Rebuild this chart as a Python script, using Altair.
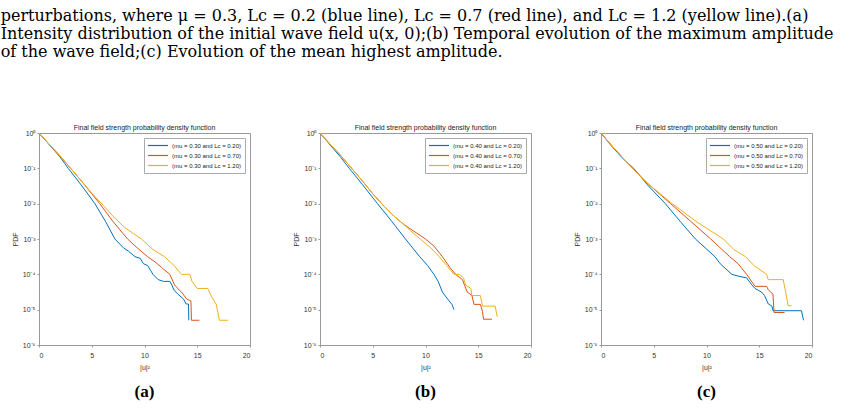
import altair as alt
import pandas as pd

CAPTION = [
    "perturbations, where \u03bc = 0.3, Lc = 0.2 (blue line), Lc = 0.7 (red line), and Lc = 1.2 (yellow line).(a)",
    "Intensity distribution of the initial wave field u(x, 0);(b) Temporal evolution of the maximum amplitude",
    "of the wave field;(c) Evolution of the mean highest amplitude.",
]
PANEL_TITLE = "Final field strength probability density function"
PANEL_TAGS = ["(a)", "(b)", "(c)"]
MUS = [0.30, 0.40, 0.50]
LCS = [0.20, 0.70, 1.20]
COLORS = ["#0072BD", "#D95319", "#EDB120"]

# values: x = |u|^2, y = log10(PDF)
A_BLUE_X = [0, 1, 2, 2.77, 4, 5.3, 6.3, 7.2, 8.0, 8.5, 9.1, 9.6, 9.9, 10.3, 10.6, 10.8, 11.3, 11.8, 12.4, 12.6, 12.8, 13.16, 13.7, 13.95, 14.17, 14.2]
A_BLUE_LOG = [0, -0.34, -0.68, -1.0, -1.47, -2.0, -2.5, -3.0, -3.25, -3.35, -3.5, -3.55, -3.7, -3.75, -3.9, -4.0, -4.15, -4.2, -4.2, -4.3, -4.45, -4.56, -4.7, -4.84, -4.84, -5.3]
A_RED_X = [0, 1, 2, 3, 4, 5, 5.76, 7, 8.4, 9.3, 10.3, 11.0, 11.6, 12.4, 12.85, 13.3, 13.5, 14.0, 14.4, 14.45, 15.2]
A_RED_LOG = [0, -0.33, -0.65, -1.0, -1.35, -1.72, -2.0, -2.5, -3.0, -3.25, -3.5, -3.65, -3.8, -4.0, -4.3, -4.45, -4.5, -4.7, -4.75, -5.3, -5.3]
A_YEL_X = [0, 1, 2, 3, 4, 5, 6.1, 7, 8.1, 9.7, 10.8, 11.9, 12.8, 13.5, 14.3, 14.5, 15.0, 16.0, 16.3, 16.8, 17.1, 17.9]
A_YEL_LOG = [0, -0.33, -0.65, -1.0, -1.35, -1.7, -2.05, -2.35, -2.67, -3.0, -3.3, -3.5, -3.75, -4.0, -4.0, -4.2, -4.4, -4.4, -4.6, -4.85, -5.3, -5.3]

B_BLUE_X = [0, 1, 2, 2.77, 4, 5.45, 6.8, 8.1, 9.45, 10.2, 10.8, 11.2, 11.6, 12.1, 12.5, 12.7]
B_BLUE_LOG = [0, -0.35, -0.7, -1.0, -1.45, -2.0, -2.5, -3.0, -3.5, -3.75, -4.0, -4.2, -4.5, -4.7, -4.85, -5.0]
B_RED_X = [0, 1, 2, 3, 4, 5, 6, 7, 8, 9, 10, 10.8, 11.6, 12.3, 12.85, 13.5, 13.95, 14.4, 14.6, 15.2, 15.4, 15.5, 16.3]
B_RED_LOG = [0, -0.33, -0.65, -1.0, -1.35, -1.72, -2.05, -2.35, -2.6, -2.8, -3.0, -3.2, -3.5, -3.8, -4.0, -4.15, -4.5, -4.6, -4.85, -4.85, -5.05, -5.27, -5.27]
B_YEL_X = [0, 1, 2, 3, 4, 5, 6, 7, 8, 8.5, 9.5, 10.5, 11.3, 12.0, 12.7, 13.2, 13.6, 13.8, 14.3, 14.4, 15.2, 15.4, 16.6, 16.8]
B_YEL_LOG = [0, -0.33, -0.65, -1.0, -1.35, -1.72, -2.05, -2.35, -2.6, -2.75, -3.0, -3.25, -3.5, -3.75, -4.0, -4.0, -4.1, -4.3, -4.4, -4.6, -4.6, -4.9, -4.9, -5.2]

C_BLUE_X = [0, 1, 2, 3.1, 4.5, 6.1, 7.5, 8.95, 10.8, 11.3, 12.4, 13.0, 13.8, 14.3, 14.6, 15.2, 15.5, 15.86, 16.2, 16.3, 19.0, 19.2]
C_BLUE_LOG = [0, -0.37, -0.7, -1.0, -1.5, -2.0, -2.5, -3.0, -3.5, -3.7, -4.0, -4.05, -4.1, -4.3, -4.4, -4.5, -4.6, -4.84, -4.9, -5.03, -5.03, -5.3]
C_RED_X = [0, 1, 2, 3, 4.5, 6.6, 8.5, 10.4, 11.3, 12.2, 13.0, 13.8, 14.6, 15.7, 15.86, 16.3, 16.4, 17.4]
C_RED_LOG = [0, -0.35, -0.68, -1.0, -1.45, -2.0, -2.5, -3.0, -3.25, -3.5, -3.7, -4.0, -4.34, -4.34, -4.44, -4.56, -5.08, -5.08]
C_YEL_X = [0, 1, 2, 3, 4.5, 6.75, 9.0, 11.6, 12.6, 13.7, 14.5, 15.7, 15.85, 17.27, 17.5, 17.74, 18.05]
C_YEL_LOG = [0, -0.35, -0.68, -1.0, -1.45, -2.0, -2.5, -3.0, -3.3, -3.5, -3.75, -4.0, -4.15, -4.15, -4.5, -4.89, -4.89]

PANELS = [
    [(A_BLUE_X, A_BLUE_LOG), (A_RED_X, A_RED_LOG), (A_YEL_X, A_YEL_LOG)],
    [(B_BLUE_X, B_BLUE_LOG), (B_RED_X, B_RED_LOG), (B_YEL_X, B_YEL_LOG)],
    [(C_BLUE_X, C_BLUE_LOG), (C_RED_X, C_RED_LOG), (C_YEL_X, C_YEL_LOG)],
]

X_TICKS = [0, 5, 10, 15, 20]
Y_TICKS = [1e-6, 1e-5, 1e-4, 1e-3, 1e-2, 1e-1, 1]

SANS = "Liberation Sans"
SERIF = "DejaVu Serif"
TAG_FONT = "Liberation Serif"

Y_LABEL_EXPR = (
    "datum.value > 0.5 ? '10\u2070' : datum.value > 0.05 ? '10\u207b\u00b9' : "
    "datum.value > 0.005 ? '10\u207b\u00b2' : datum.value > 0.0005 ? '10\u207b\u00b3' : "
    "datum.value > 0.00005 ? '10\u207b\u2074' : datum.value > 0.000005 ? '10\u207b\u2075' : '10\u207b\u2076'"
)

W, H = 211, 212


def make_panel(tag, mu, series):
    labels = [f"(mu = {mu:.2f} and Lc = {lc:.2f})" for lc in LCS]
    rows = []
    for lab, (xs, logs) in zip(labels, series):
        for i, (x, lg) in enumerate(zip(xs, logs)):
            rows.append({"series": lab, "idx": i, "x": x, "pdf": 10.0 ** lg})
    df = pd.DataFrame(rows)
    lines = alt.Chart(df).mark_line(strokeWidth=1).encode(
        x=alt.X("x:Q", scale=alt.Scale(domain=[0, 20], nice=False),
                axis=alt.Axis(title="|u|\u00b2", values=X_TICKS, grid=False, ticks=True, tickSize=2,
                              labelFont=SANS, labelFontSize=7, titleFont=SANS, titleFontSize=7,
                              titleFontWeight="normal", labelColor="#333", titleColor="#333",
                              domainColor="#999", tickColor="#999", labelPadding=4, titlePadding=5)),
        y=alt.Y("pdf:Q", scale=alt.Scale(type="log", domain=[1e-6, 1], nice=False),
                axis=alt.Axis(title="PDF", values=Y_TICKS, labelExpr=Y_LABEL_EXPR, grid=False,
                              ticks=True, tickSize=2, labelFont=SANS, labelFontSize=7, titleFont=SANS,
                              titleFontSize=7, titleFontWeight="normal", labelColor="#333",
                              titleColor="#333", domainColor="#999", tickColor="#999",
                              labelPadding=2, titlePadding=4)),
        color=alt.Color("series:N", scale=alt.Scale(domain=labels, range=COLORS),
                        legend=alt.Legend(title=None, orient="top-right", offset=5, fillColor="white",
                                          strokeColor="#aaa", padding=3, labelFont=SANS,
                                          labelFontSize=6, labelColor="#222", symbolType="stroke",
                                          symbolStrokeWidth=1.2, symbolSize=400, rowPadding=1,
                                          clipHeight=9, labelOffset=3, labelLimit=200)),
        order="idx:Q",
    )
    head = alt.Chart(pd.DataFrame({"t": [PANEL_TITLE]})).mark_text(
        font=SANS, fontSize=7, color="#222", baseline="bottom"
    ).encode(x=alt.datum(10), y=alt.value(-2), text="t:N")
    return alt.layer(lines, head).properties(
        width=W, height=H,
        title=alt.TitleParams(tag, orient="bottom", font=TAG_FONT, fontSize=17, fontWeight="bold",
                              color="black", offset=14),
    )


panels = [make_panel(t, m, s) for t, m, s in zip(PANEL_TAGS, MUS, PANELS)]

chart = alt.hconcat(*panels, spacing=40).resolve_scale(color="independent").properties(
    title=alt.TitleParams(CAPTION, anchor="start", font=SERIF, fontSize=16, fontWeight="normal",
                          color="black", lineHeight=18, offset=64, frame="bounds", dx=-10),
    padding={"left": 0, "top": 7, "right": 0, "bottom": 0},
).configure_view(stroke="#999")

chart.save("out.html", embed_options={"renderer": "svg", "actions": False})
